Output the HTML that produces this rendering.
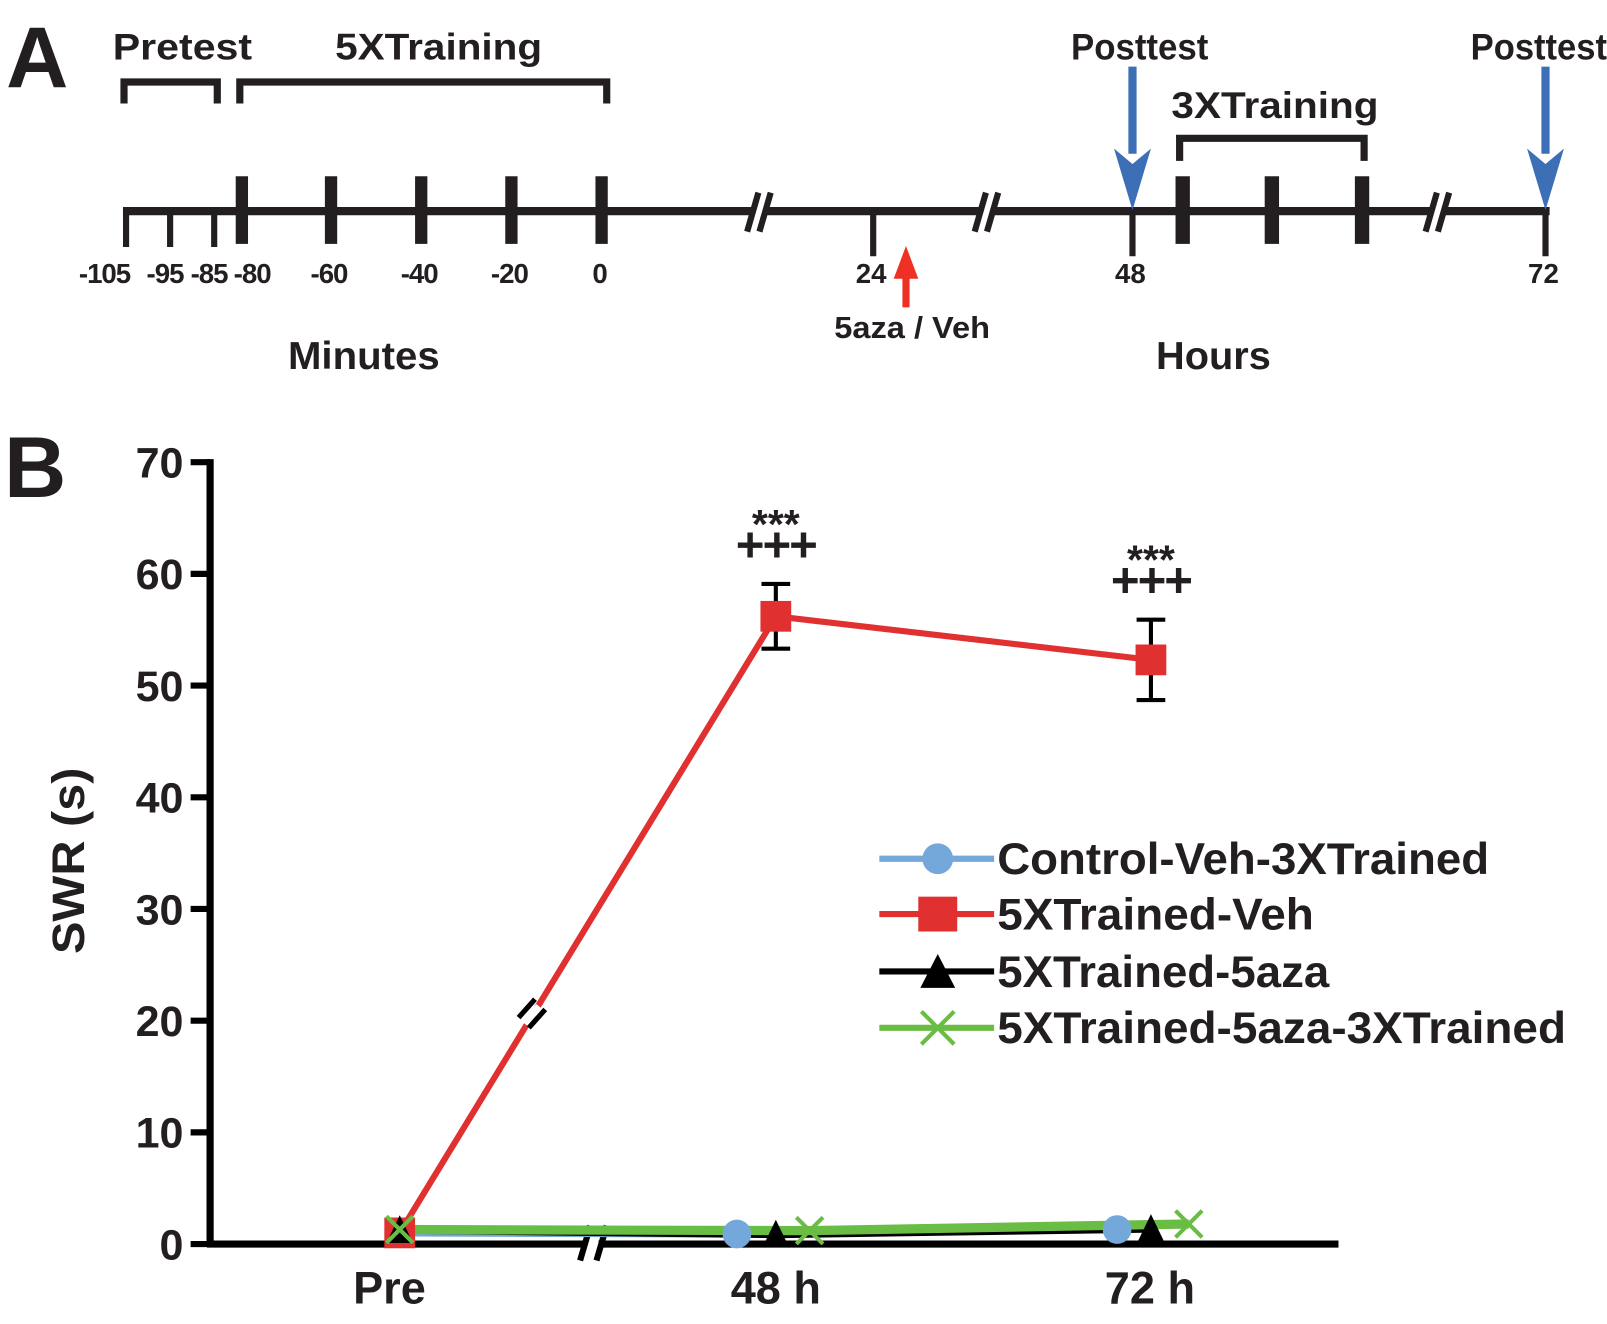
<!DOCTYPE html>
<html><head><meta charset="utf-8"><style>
html,body{margin:0;padding:0;background:#fff;}
svg{display:block;}
text{font-family:"Liberation Sans",sans-serif;font-weight:bold;fill:#231f20;}
</style></head><body>
<svg id="fig" width="1607" height="1324" viewBox="0 0 1568 1292" preserveAspectRatio="none">
<g id="panelA">
<text x="6" y="85" font-size="84">A</text>
<text x="110" y="58" font-size="36" textLength="136" lengthAdjust="spacingAndGlyphs">Pretest</text>
<text x="327" y="58" font-size="36" textLength="202" lengthAdjust="spacingAndGlyphs">5XTraining</text>
<text x="1045" y="58" font-size="36" textLength="134" lengthAdjust="spacingAndGlyphs">Posttest</text>
<text x="1435" y="58" font-size="36" textLength="133" lengthAdjust="spacingAndGlyphs">Posttest</text>
<text x="1143" y="115" font-size="36" textLength="202" lengthAdjust="spacingAndGlyphs">3XTraining</text>
<path d="M121,101V80H212V101" fill="none" stroke="#231f20" stroke-width="7"/>
<path d="M234,101V80H592V101" fill="none" stroke="#231f20" stroke-width="7"/>
<path d="M1151,157V135H1331V157" fill="none" stroke="#231f20" stroke-width="7"/>
<line x1="120" y1="206" x2="1512" y2="206" stroke="#231f20" stroke-width="8"/>
<g id="atick"></g>
<g stroke="#231f20" stroke-width="6">
<rect x="736" y="190" width="10" height="34" fill="#fff" stroke="none"/>
<path d="M729,226L740,188M741,226L752,188"/>
<rect x="958" y="190" width="10" height="34" fill="#fff" stroke="none"/>
<path d="M951,226L962,188M963,226L974,188"/>
<rect x="1398" y="190" width="10" height="34" fill="#fff" stroke="none"/>
<path d="M1391,226L1402,188M1403,226L1414,188"/>
</g>
<line x1="884" y1="300" x2="884" y2="265" stroke="#ee3124" stroke-width="7"/>
<path d="M872,272L884,240L896,272Z" fill="#ee3124"/>
<line x1="1105" y1="65" x2="1105" y2="150" stroke="#3c6fb6" stroke-width="8"/>
<path d="M1087,145L1105,205L1123,145L1105,160Z" fill="#3c6fb6"/>
<line x1="1508" y1="65" x2="1508" y2="150" stroke="#3c6fb6" stroke-width="8"/>
<path d="M1490,145L1508,205L1526,145L1508,160Z" fill="#3c6fb6"/>
<text x="890" y="330" font-size="30" text-anchor="middle" textLength="152" lengthAdjust="spacingAndGlyphs">5aza / Veh</text>
<text x="355" y="360" font-size="38" text-anchor="middle" textLength="148" lengthAdjust="spacingAndGlyphs">Minutes</text>
<text x="1184" y="360" font-size="38" text-anchor="middle" textLength="112" lengthAdjust="spacingAndGlyphs">Hours</text>
</g>
<g id="panelB">
<text x="4" y="485" font-size="84">B</text>
<text transform="translate(82,840) rotate(-90)" font-size="44" text-anchor="middle" textLength="182" lengthAdjust="spacingAndGlyphs">SWR (s)</text>
<g id="yaxis"></g>
<g id="xaxis"></g>
<g id="series"></g>
<g id="legend"></g>
</g>
</svg>
<script>
const NS='http://www.w3.org/2000/svg';
function mk(parent,tag,attrs,txt){const e=document.createElementNS(NS,tag);for(const k in attrs)e.setAttribute(k,attrs[k]);if(txt!==undefined)e.textContent=txt;parent.appendChild(e);return e;}

// Panel A timeline data
const smallTickLabels=['-105','-95','-85'];
const bigTickLabels=['-80','-60','-40','-20','0'];
const hourLabels=['24','48','72'];
// Panel B data
const categories=['Pre','48 h','72 h'];
const yTicks=[0,10,20,30,40,50,60,70];
const seriesNames=['Control-Veh-3XTrained','5XTrained-Veh','5XTrained-5aza','5XTrained-5aza-3XTrained'];
const controlVals=[1.0,0.9,1.3];
const vehVals=[1.0,56.2,52.3];
const vehErr=[0,2.9,3.6];
const azaVals=[1.2,0.8,1.3];
const aza3xVals=[1.3,1.2,1.8];

// Panel A ticks
const at=document.getElementById('atick');
const smallX=[123,166,209], bigX=[236,323,411,499,587], bigX2=[1154,1241,1329], hourX=[852,1105,1508];
smallTickLabels.forEach((l,i)=>{
 const t=mk(at,'line',{x1:smallX[i],y1:206,x2:smallX[i],y2:241,stroke:'#231f20','stroke-width':6});
 
 
 const tx=mk(at,'text',{x:smallX[i]+[-21,-5,-5][i],y:276,'font-size':27,'text-anchor':'middle','letter-spacing':-1},l);
 
 
});
bigTickLabels.forEach((l,i)=>{
 const t=mk(at,'rect',{x:bigX[i]-6,y:172,width:12,height:66,fill:'#231f20'});
 
 
 const tx=mk(at,'text',{x:bigX[i]+(i==0?10:-2),y:276,'font-size':27,'text-anchor':'middle','letter-spacing':-1},l);
 
 
});
bigX2.forEach(x=>{
 const t=mk(at,'rect',{x:x-7,y:172,width:14,height:66,fill:'#231f20'});
 
 
});
hourLabels.forEach((l,i)=>{
 const t=mk(at,'line',{x1:hourX[i],y1:206,x2:hourX[i],y2:250,stroke:'#231f20','stroke-width':6});
 
 
 const tx=mk(at,'text',{x:hourX[i]-2,y:276,'font-size':27,'text-anchor':'middle'},l);
 
 
});

// Panel B scales
const X0=205,X1=1306,Y0=1214,Y70=451;
const catX=[390,757,1123];
const labelX=[380,757,1122];
const yS=v=>Y0-(v/70)*(Y0-Y70);
const ya=document.getElementById('yaxis');
const yl=mk(ya,'line',{x1:X0,y1:Y70-3,x2:X0,y2:Y0+3,stroke:'#000','stroke-width':7});


yTicks.forEach(v=>{
 const t=mk(ya,'line',{x1:186,y1:yS(v),x2:X0,y2:yS(v),stroke:'#000','stroke-width':6});
 
 
 const tx=mk(ya,'text',{x:179,y:yS(v)+15,'font-size':42,'text-anchor':'end'},String(v));
 
 
});
const xa=document.getElementById('xaxis');
const xl=mk(xa,'line',{x1:X0-3,y1:Y0,x2:X1,y2:Y0,stroke:'#000','stroke-width':7});


const xbw=mk(xa,'rect',{x:572,y:1196,width:12,height:30,fill:'#fff'});


const xb=mk(xa,'path',{d:'M566,1230L576,1196M582,1230L592,1196',stroke:'#000','stroke-width':6});


categories.forEach((c,i)=>{
 const tx=mk(xa,'text',{x:labelX[i],y:1272,'font-size':44,'text-anchor':'middle'},c);
 
 
});

const S=document.getElementById('series');
const offsets={control:[0,-38,-33],veh:[0,0,0],aza:[0,0,0],aza3x:[0,33,37]};
function line(vals,off,color,w,name){
 const pts=vals.map((v,i)=>(catX[i]+off[i])+','+yS(v)).join(' ');
 const p=mk(S,'polyline',{points:pts,fill:'none',stroke:color,'stroke-width':w});
 
 
}
function circle(x,y){const m=mk(S,'circle',{cx:x,cy:y,r:14,fill:'#74a7da'});}
function square(x,y){const m=mk(S,'rect',{x:x-15,y:y-15,width:30,height:30,fill:'#e03030'});}
function tri(x,y){const m=mk(S,'path',{d:`M${x-13},${y+12}L${x},${y-15}L${x+13},${y+12}Z`,fill:'#000'});}
function cross(x,y){const m=mk(S,'path',{d:`M${x-13},${y-13}L${x+13},${y+13}M${x-13},${y+13}L${x+13},${y-13}`,stroke:'#69bd45','stroke-width':4,fill:'none'});}

line(controlVals,offsets.control,'#74a7da',7,'control-line');
line(azaVals,offsets.aza,'#000',6,'aza-line');
line(aza3xVals,offsets.aza3x,'#69bd45',9,'aza3x-line');
line(vehVals,offsets.veh,'#e03030',6,'veh-line');
// break on veh line
{const w=mk(S,'path',{d:'M512,999L526,982',stroke:'#fff','stroke-width':7});
 const p=mk(S,'path',{d:'M506,993L522,975M516,1003L532,985',stroke:'#000','stroke-width':5});}
vehErr.forEach((e,i)=>{
 if(!e)return;const x=catX[i];
 const p=mk(S,'path',{d:`M${x},${yS(vehVals[i]+e)}V${yS(vehVals[i]-e)}M${x-14},${yS(vehVals[i]+e)}H${x+14}M${x-14},${yS(vehVals[i]-e)}H${x+14}`,stroke:'#000','stroke-width':4,fill:'none'});
 
 
});
controlVals.forEach((v,i)=>circle(catX[i]+offsets.control[i],yS(v)));
vehVals.forEach((v,i)=>square(catX[i]+offsets.veh[i],yS(v)));
azaVals.forEach((v,i)=>tri(catX[i]+offsets.aza[i],yS(v)));
aza3xVals.forEach((v,i)=>cross(catX[i]+offsets.aza3x[i],yS(v)));
// significance
[1,2].forEach(i=>{
 const top=yS(vehVals[i]+vehErr[i]);
 const s=mk(S,'text',{x:catX[i],y:top-45,'font-size':40,'text-anchor':'middle'},'***');
 
 
 const p=mk(S,'text',{x:catX[i],y:top-22,'font-size':48,'text-anchor':'middle','letter-spacing':-2},'+++');
 
 
});

// legend
const L=document.getElementById('legend');
const legY=[838,892,948,1003];
const legCol=['#74a7da','#e03030','#000','#69bd45'];
const legLen=[480,309,324,555];
seriesNames.forEach((n,i)=>{
 const l=mk(L,'line',{x1:858,y1:legY[i],x2:970,y2:legY[i],stroke:legCol[i],'stroke-width':6});
 
 
 const t=mk(L,'text',{x:973,y:legY[i]+15,'font-size':43,textLength:legLen[i],lengthAdjust:'spacingAndGlyphs'},n);
 
 
});
{const x=915;
 const c=mk(L,'circle',{cx:x,cy:legY[0],r:15,fill:'#74a7da'});
 const r=mk(L,'rect',{x:x-19,y:legY[1]-17,width:38,height:34,fill:'#e03030'});
 const t=mk(L,'path',{d:`M${x-17},${legY[2]+16}L${x},${legY[2]-17}L${x+17},${legY[2]+16}Z`,fill:'#000'});
 const k=mk(L,'path',{d:`M${x-16},${legY[3]-16}L${x+16},${legY[3]+16}M${x-16},${legY[3]+16}L${x+16},${legY[3]-16}`,stroke:'#69bd45','stroke-width':4});
}
</script>
</body></html>
